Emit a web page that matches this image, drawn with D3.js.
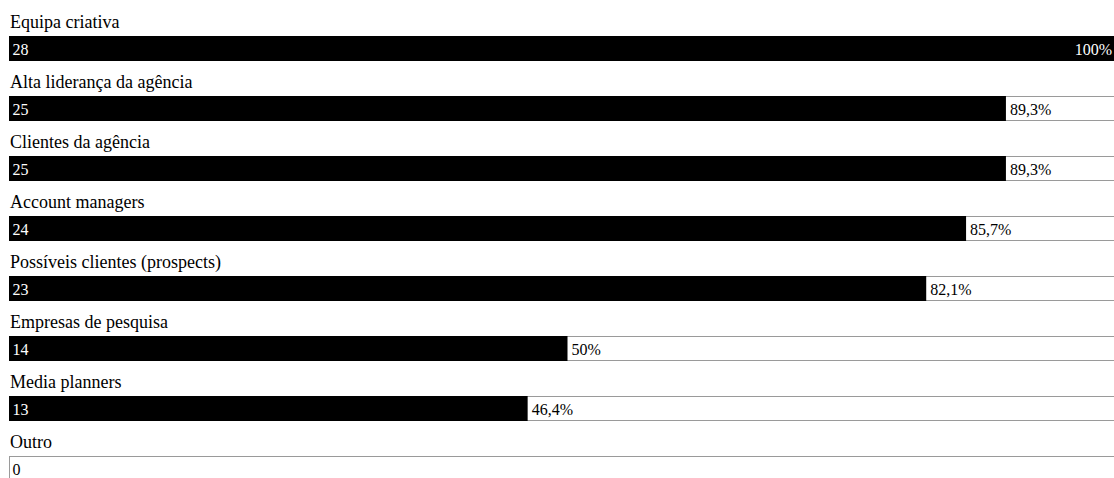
<!DOCTYPE html>
<html>
<head>
<meta charset="utf-8">
<script src="https://cdn.jsdelivr.net/npm/d3@7"></script>
<style>
  html, body { margin: 0; padding: 0; background: #fff; overflow: hidden; }
  svg { display: block; }
</style>
</head>
<body>
<script>
// Answer options and number of respondents who chose each one
const categories = [
  "Equipa criativa",
  "Alta liderança da agência",
  "Clientes da agência",
  "Account managers",
  "Possíveis clientes (prospects)",
  "Empresas de pesquisa",
  "Media planners",
  "Outro"
];
const counts = [28, 25, 25, 24, 23, 14, 13, 0];
const totalRespondents = 28;

const width = 1114, height = 478;
const left = 9.5, trackWidth = 1116;
const rowTop = 36.5, rowStep = 60, barH = 24;
const serif = "'Liberation Serif', 'Times New Roman', Times, 'DejaVu Serif', serif";

const svg = d3.select("body").append("svg")
  .attr("width", width).attr("height", height)
  .style("font-family", serif);

const x = d3.scaleLinear().domain([0, totalRespondents]).range([0, trackWidth]);
const y = d3.scaleBand().domain(categories)
  .range([rowTop, rowTop + rowStep * categories.length]).paddingInner(0).paddingOuter(0);

const pt = d3.formatLocale({ decimal: ",", thousands: ".", grouping: [3], currency: ["", "€"] });
const fmtPct = v => {
  const p = Math.round(v * 1000) / 10;
  return (Number.isInteger(p) ? pt.format("d")(p) : pt.format(".1f")(p)) + "%";
};

const rows = svg.selectAll("g.row")
  .data(categories.map((c, i) => ({ cat: c, n: counts[i] })))
  .join("g").attr("class", "row")
  .attr("transform", d => `translate(0,${y(d.cat)})`);

// category title above each bar
rows.append("text")
  .attr("x", left + 0.5).attr("y", -8.5)
  .attr("font-size", 18).attr("fill", "#000")
  .style("font-family", serif)
  .text(d => d.cat);

// empty track
rows.append("rect")
  .attr("x", left).attr("y", 0)
  .attr("width", trackWidth).attr("height", barH)
  .attr("fill", "#fff").attr("stroke", "#9a9a9a").attr("stroke-width", 1);

// filled portion
rows.filter(d => d.n > 0).append("rect")
  .attr("x", left - 0.5).attr("y", -0.5)
  .attr("width", d => x(d.n) + 0.5).attr("height", barH + 1)
  .attr("fill", "#000");

// count inside the bar
rows.append("text")
  .attr("x", left + 3).attr("y", 18.5)
  .attr("font-size", 16)
  .style("font-family", serif)
  .attr("fill", d => d.n > 0 ? "#fff" : "#000")
  .text(d => d.n);

// share of respondents next to the bar end (inside when the bar is full)
rows.filter(d => d.n > 0).append("text")
  .attr("x", d => d.n === totalRespondents ? width - 2 : left + x(d.n) + 4)
  .attr("text-anchor", d => d.n === totalRespondents ? "end" : "start")
  .attr("y", 18.5)
  .attr("font-size", 16)
  .style("font-family", serif)
  .attr("fill", d => d.n === totalRespondents ? "#fff" : "#000")
  .text(d => fmtPct(d.n / totalRespondents));
</script>
</body>
</html>
